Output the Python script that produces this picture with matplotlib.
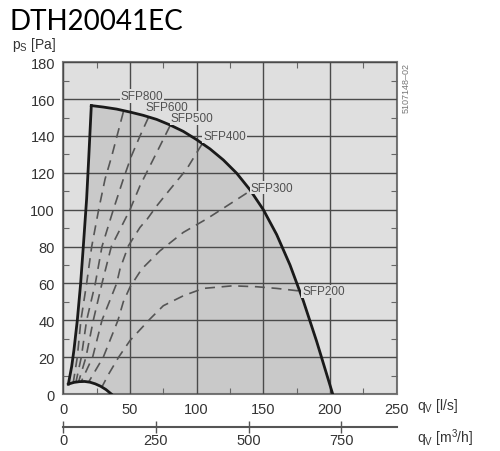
import numpy as np
import matplotlib
matplotlib.use('agg')
import matplotlib.pyplot as plt
from matplotlib.ticker import MultipleLocator

plt.rcParams['font.family'] = ['Liberation Sans', 'DejaVu Sans']
plt.rcParams['mathtext.fontset'] = 'custom'
plt.rcParams['mathtext.rm'] = 'Liberation Sans'

# fan curve (upper limit), l/s vs Pa
fan_q = [21, 30, 40, 50, 60, 70, 80, 90, 100, 110, 120, 130, 140, 150, 160, 170, 180, 190, 202]
fan_p = [156.5, 155.7, 154.6, 153, 151.2, 149, 146, 142.5, 138, 133, 127, 119.8, 110.8, 100, 86.5, 70, 50.5, 28.5, 0]

# left limit (top to bottom)
left_q = [21, 19, 17.5, 15, 13, 10.5, 8, 6.3, 3.8]
left_p = [156.5, 127, 106, 80, 60, 40, 24, 15, 5.4]

# lower limit arc
low_q = [3.8, 8, 12, 16, 20, 24, 28, 32, 36]
low_p = [5.4, 6.3, 6.7, 6.8, 6.4, 5.5, 4.2, 2.4, 0]

# SFP lines
sfp800_q = [45, 41, 36.3, 31.3, 26.5, 21.3, 17.5, 13.2, 10.5, 7.5]
sfp800_p = [153, 142, 129, 116.6, 100, 80, 60, 40, 20, 6.3]
sfp600_q = [63.8, 57.5, 51, 45, 37.5, 29, 24, 17.5, 13.5, 9.5]
sfp600_p = [150, 140, 129, 116.6, 100, 80, 60, 40, 20, 6.5]
sfp500_q = [80, 72.5, 65, 57.5, 50, 36, 29, 22.5, 17, 11.5]
sfp500_p = [145.5, 134.6, 123.8, 113, 100, 80, 60, 40, 20, 6.7]
sfp400_q = [104, 92.5, 80, 70, 63, 57.5, 48.8, 42.5, 40, 29, 22, 13.5]
sfp400_p = [135.6, 122, 111, 102, 95, 90.4, 80.4, 67.8, 60, 40, 20, 6.8]
sfp300_q = [137.5, 120, 107.5, 90, 72.5, 58.8, 50, 45, 41, 30, 19]
sfp300_p = [109, 100.8, 95, 87.7, 77.7, 67.8, 58, 50, 40, 20, 6.5]
sfp200_q = [176, 160, 145, 127, 105, 90, 75, 65, 50, 41.5, 34, 28.8]
sfp200_p = [56, 57.3, 58.2, 58.7, 57.3, 53.3, 47.9, 40.7, 29, 20, 10.8, 3.6]

sfp_names = ['SFP800', 'SFP600', 'SFP500', 'SFP400', 'SFP300', 'SFP200']
label_q = [59, 78, 96.3, 120.9, 156.4, 195]
label_p = [161.6, 155.5, 149.7, 140, 112, 55.7]

bg = '#dfdfdf'
fig = plt.figure(figsize=(5, 4.52), dpi=100)
ax = fig.add_axes([0.1266, 0.1261, 0.6668, 0.7339])
ax.set_facecolor(bg)
ax.set_xlim(0, 250)
ax.set_ylim(0, 180)

# operating area
area_q = np.concatenate([left_q, low_q, fan_q[::-1]])
area_p = np.concatenate([left_p, low_p, fan_p[::-1]])
ax.fill(area_q, area_p, color='#c9c9c9', zorder=1)

ax.xaxis.set_major_locator(MultipleLocator(50))
ax.yaxis.set_major_locator(MultipleLocator(20))
ax.xaxis.set_minor_locator(MultipleLocator(25))
ax.yaxis.set_minor_locator(MultipleLocator(10))
ax.grid(which='major', color='#4a4a4a', lw=1.0, zorder=2)
ax.set_axisbelow(False)
ax.tick_params(which='major', length=0, pad=6, labelsize=10.5, colors='#333333')
ax.tick_params(which='minor', direction='in', length=4, width=0.8, color='#666666',
               top=True, right=True)
for s in ax.spines.values():
    s.set_color('#777777')
    s.set_linewidth(1.5)

dash = dict(color='#555555', lw=1.2, dashes=(6, 4), zorder=3)
for q, p in [(sfp800_q, sfp800_p), (sfp600_q, sfp600_p), (sfp500_q, sfp500_p),
             (sfp400_q, sfp400_p), (sfp300_q, sfp300_p), (sfp200_q, sfp200_p)]:
    ax.plot(q, p, **dash)

ax.plot(fan_q, fan_p, color='#1a1a1a', lw=2.0, zorder=4)
ax.plot(left_q, left_p, color='#1a1a1a', lw=2.0, zorder=4)
ax.plot(low_q, low_p, color='#1a1a1a', lw=2.0, zorder=4)

for name, q, p in zip(sfp_names, label_q, label_p):
    ax.text(q, p, name, fontsize=8.5, color='#505050', ha='center', va='center', zorder=5,
            bbox=dict(facecolor=bg, edgecolor='none', pad=0.5))

# second axis in m3/h
ax2 = fig.add_axes([0.1266, 0.0531, 0.6668, 0.0001])
ax2.set_xlim(0, 250 * 3.6)
ax2.set_xticks([0, 250, 500, 750])
ax2.set_yticks([])
ax2.patch.set_alpha(0)
for side in ['left', 'right', 'top']:
    ax2.spines[side].set_visible(False)
ax2.spines['bottom'].set_color('#555555')
ax2.spines['bottom'].set_linewidth(1.5)
ax2.tick_params(axis='x', direction='inout', length=8, width=1, color='#555555',
                labelsize=10.5, labelcolor='#333333', pad=0)

fig.text(0.02, 1 - 22 / 452, 'DTH20041EC', fontsize=20, family=['Lato', 'DejaVu Sans'],
         va='center', ha='left')
fig.text(12 / 500, 1 - 45 / 452, r'p$_\mathrm{S}$ [Pa]', fontsize=10, color='#333333',
         va='center', ha='left')
fig.text(417 / 500, 1 - 406 / 452, r'q$_\mathrm{V}$ [l/s]', fontsize=10, color='#333333',
         va='center', ha='left')
fig.text(417 / 500, 1 - 438 / 452, r'q$_\mathrm{V}$ [m$^3$/h]', fontsize=10, color='#333333',
         va='center', ha='left')
fig.text(406 / 500, 1 - 88 / 452, '5107148\u201302', fontsize=6.5, color='#777777',
         rotation=90, va='center', ha='center')

fig.savefig('out.png', dpi=100)
